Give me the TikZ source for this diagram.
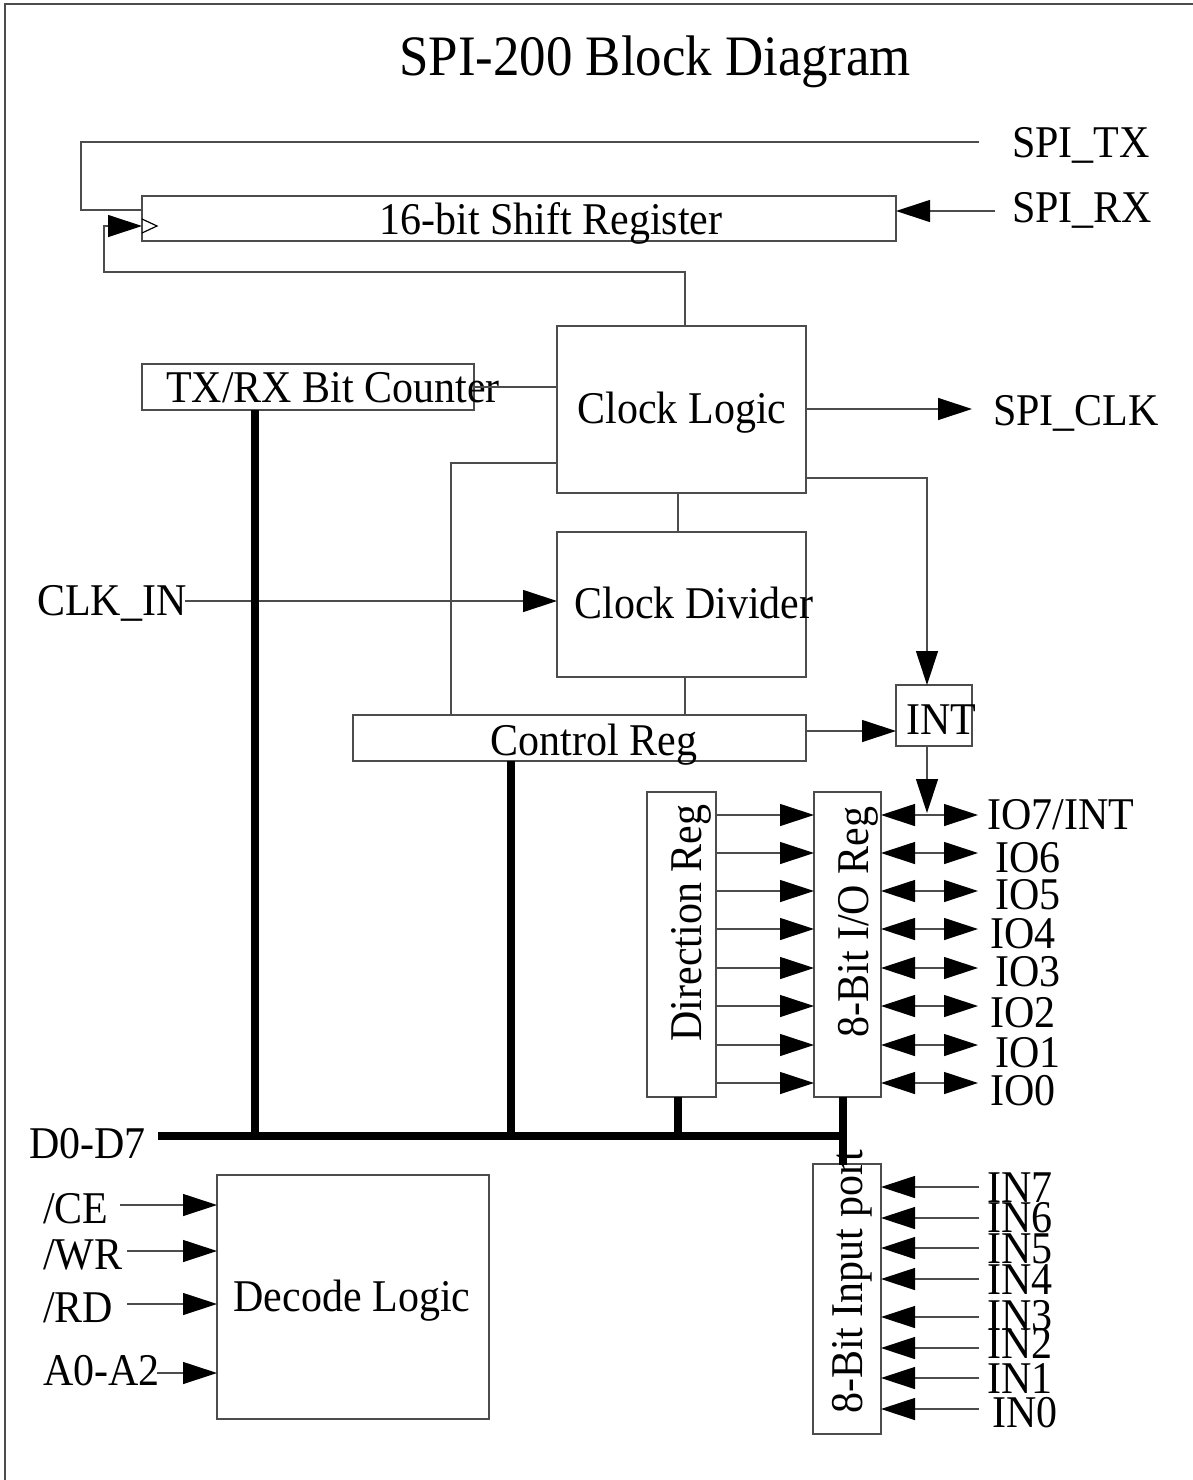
\documentclass[tikz,border=0pt]{standalone}
\usepackage{fontspec}
\setmainfont[FakeStretch=0.925]{Liberation Serif}
\usetikzlibrary{arrows.meta}
\begin{document}
\begin{tikzpicture}[x=1pt,y=-1pt,
  ln/.style={line width=1.2pt, draw=black!70},
  box/.style={ln, rectangle, inner sep=0pt, outer sep=0pt, anchor=north west},
  lbl/.style={font=\fontsize{45.4}{50}\selectfont, inner sep=0pt, anchor=base west},
  ctr/.style={font=\fontsize{45.4}{50}\selectfont, inner sep=0pt, anchor=base},
  vtxt/.style={font=\fontsize{45.4}{50}\selectfont, inner sep=0pt, anchor=base, rotate=90},
  arr/.style={ln, -{Triangle[length=34pt,width=22pt,black]}},
  barr/.style={ln, {Triangle[length=34pt,width=22pt,black]}-{Triangle[length=34pt,width=22pt,black]}},
  bus/.style={line width=8pt, draw=black}]
\useasboundingbox (0,0) rectangle (1193,1480);
% frame
\draw[ln] (5,1480) -- (5,4) -- (1193,4);
% title
\node[font=\fontsize{57.2}{62}\selectfont, inner sep=0pt, anchor=base] (title) at (655,76) {SPI-200 Block Diagram};

% boxes
\node[box, minimum width=754pt, minimum height=45pt] (sr) at (142,196) {};
\node[box, minimum width=332pt, minimum height=46pt] (txrx) at (142,364) {};
\node[box, minimum width=249pt, minimum height=167pt] (cl) at (557,326) {};
\node[box, minimum width=249pt, minimum height=145pt] (cd) at (557,532) {};
\node[box, minimum width=453pt, minimum height=46pt] (cr) at (353,715) {};
\node[box, minimum width=76pt, minimum height=61pt] (int) at (896,685) {};
\node[box, minimum width=69pt, minimum height=305pt] (dir) at (647,792) {};
\node[box, minimum width=67pt, minimum height=305pt] (io) at (814,792) {};
\node[box, minimum width=68pt, minimum height=270pt] (inp) at (813,1164) {};
\node[box, minimum width=272pt, minimum height=244pt] (dec) at (217,1175) {};

% box texts
\node[ctr] (srt) at (551,234) {16-bit Shift Register};
\node[lbl] (txrxt) at (166,402) {TX/RX Bit Counter};
\node[ctr] (clt) at (682,423) {Clock Logic};
\node[ctr] (cdt) at (694,618) {Clock Divider};
\node[ctr] (crt) at (594,755) {Control Reg};
\node[ctr] (intt) at (941,734) {INT};
\node[ctr] (dect) at (352,1311) {Decode Logic};
\node[vtxt] (dirt) at (701,923) {Direction Reg};
\node[vtxt] (iot) at (868,922) {8-Bit I/O Reg};
\node[vtxt] (inpt) at (862,1282) {8-Bit Input port};

% clock triangle in shift register
\draw[ln, draw=black] (142,219) -- (157,226) -- (142,233);

% SPI_TX feedback
\coordinate (txend) at (979,142);
\coordinate (srfb) at (142,210);
\draw[ln] (txend) -- (81,142) |- (srfb);
% SPI_RX
\coordinate (rxs) at (995,211);
\draw[arr] (rxs) -- (rxs -| sr.east);
% clock to shift register
\coordinate (srclk) at (142,226);
\coordinate (clktop) at (685,326);
\draw[arr] (clktop) |- (104,272) |- (srclk);
% counter to clock logic
\draw[ln] (txrx.east) -- (txrx.east -| cl.west);
% clock logic to control reg
\coordinate (clw) at (557,463);
\coordinate (crtop) at (451,715);
\draw[ln] (clw) -| (crtop);
% clock logic to divider
\coordinate (cls) at (678,493);
\draw[ln] (cls) -- (cls |- cd.north);
\coordinate (cds) at (685,677);
\draw[ln] (cds) -- (cds |- cr.north);
% CLK_IN
\coordinate (clkin) at (185,601);
\draw[arr] (clkin) -- (clkin -| cd.west);
% SPI_CLK
\coordinate (spiclk) at (972,409);
\draw[arr] (spiclk -| cl.east) -- (spiclk);
% clock logic to INT
\coordinate (clint) at (806,478);
\coordinate (intn) at (927,685);
\draw[arr] (clint) -| (intn);
% control reg to INT
\coordinate (crint) at (806,731);
\draw[arr] (crint) -- (crint -| int.west);
% INT to IO7
\coordinate (ints) at (927,746);
\coordinate (io7) at (927,813);
\draw[arr] (ints) -- (io7);

% direction -> io reg, io reg <-> pins
\foreach \y in {815,853,891,929,968,1006,1045,1083}{
  \draw[arr] (716,\y) -- (814,\y);
  \draw[barr] (881,\y) -- (978,\y);
}
% input port
\foreach \y in {1187,1218,1248,1279,1317,1348,1378,1409}{
  \draw[arr] (979,\y) -- (881,\y);
}
% decode inputs
\draw[arr] (120,1205) -- (217,1205);
\draw[arr] (127,1251) -- (217,1251);
\draw[arr] (127,1304) -- (217,1304);
\draw[arr] (157,1373) -- (217,1373);

% data bus
\draw[bus] (158,1136) -- (847,1136);
\draw[bus] (255,410) -- (255,1136);
\draw[bus] (511,761) -- (511,1136);
\draw[bus] (678,1097) -- (678,1136);
\draw[bus] (843,1097) -- (843,1165);

% labels
\node[lbl] (ltx) at (1012,157) {SPI\_TX};
\node[lbl] (lrx) at (1012,222) {SPI\_RX};
\node[lbl] (lclk) at (993,425) {SPI\_CLK};
\node[lbl] (lclkin) at (37,615) {CLK\_IN};
\node[lbl] (ld) at (29,1158) {D0-D7};
\node[lbl] (lce) at (43,1223) {/CE};
\node[lbl] (lwr) at (43,1269) {/WR};
\node[lbl] (lrd) at (43,1322) {/RD};
\node[lbl] (la) at (43,1385) {A0-A2};

\node[lbl] at (987,829) {IO7/INT};
\node[lbl] at (995,872) {IO6};
\node[lbl] at (995,909) {IO5};
\node[lbl] at (990,948) {IO4};
\node[lbl] at (995,986) {IO3};
\node[lbl] at (990,1027) {IO2};
\node[lbl] at (995,1067) {IO1};
\node[lbl] at (990,1105) {IO0};

\node[lbl] at (987,1202) {IN7};
\node[lbl] at (987,1232) {IN6};
\node[lbl] at (987,1263) {IN5};
\node[lbl] at (987,1294) {IN4};
\node[lbl] at (987,1330) {IN3};
\node[lbl] at (987,1358) {IN2};
\node[lbl] at (987,1393) {IN1};
\node[lbl] at (992,1427) {IN0};
\end{tikzpicture}
\end{document}
